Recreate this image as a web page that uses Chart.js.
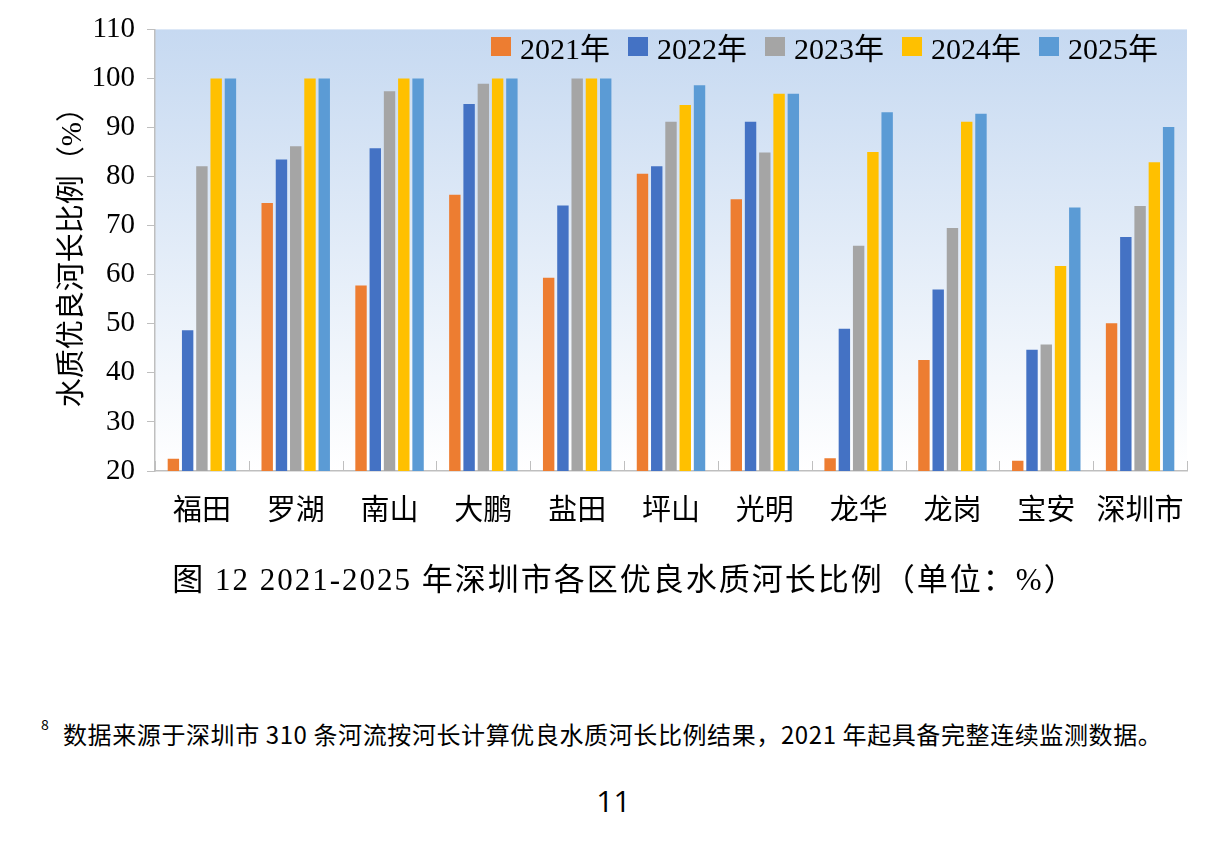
<!DOCTYPE html>
<html>
<head>
<meta charset="utf-8">
<script src="https://cdn.jsdelivr.net/npm/chart.js@4/dist/chart.umd.min.js"></script>
<style>
  html, body { margin: 0; padding: 0; background: #fff; }
  body { width: 1227px; height: 850px; position: relative; overflow: hidden; }
  #box { position: absolute; left: 0; top: 0; width: 1227px; height: 560px; }
  #legenda { position: absolute; top: 24px; left: 491px; display: flex;
    font-family: "Liberation Serif", "Noto Sans CJK SC", serif; font-size: 30px; color: #000; }
  #legenda .item { display: flex; align-items: center; margin-right: 18px; }
  #legenda .cor { width: 20px; height: 19px; margin-right: 9px; }
  #legenda .item:nth-child(5) { margin-right: 0; }
  #titulo { position: absolute; top: 554px; left: 0; width: 1227px; padding-left: 22px; box-sizing: border-box;
    text-align: center; font-family: "Liberation Serif", "Noto Sans CJK SC", serif; font-size: 31px; letter-spacing: 2px; }
  #nota { position: absolute; top: 716px; left: 63px; font-family: "Noto Sans CJK SC", sans-serif;
    font-size: 24px; white-space: nowrap; letter-spacing: 0.6px; }
  #nota sup { position: absolute; left: -22px; top: -2px; font-size: 14px; }
  #pagina { position: absolute; top: 780px; left: 0; width: 1227px; text-align: center;
    font-family: "Open Sans", sans-serif; font-size: 30px; }
</style>
</head>
<body>
<div id="box"><canvas id="grafico" width="1227" height="560"></canvas></div>
<div id="legenda"></div>
<div id="titulo">图 12 2021-2025 年深圳市各区优良水质河长比例（单位：%）</div>
<div id="nota"><sup>8</sup>数据来源于深圳市 310 条河流按河长计算优良水质河长比例结果，2021 年起具备完整连续监测数据。</div>
<div id="pagina">11</div>
<script>
const distritos = ["福田", "罗湖", "南山", "大鹏", "盐田", "坪山", "光明", "龙华", "龙岗", "宝安", "深圳市"];
const anos = ["2021年", "2022年", "2023年", "2024年", "2025年"];
const v2021 = [22.5, 74.6, 57.8, 76.3, 59.4, 80.6, 75.4, 22.6, 42.6, 22.1, 50.1];
const v2022 = [48.7, 83.5, 85.8, 94.8, 74.1, 82.1, 91.2, 49.0, 57.0, 44.7, 67.7];
const v2023 = [82.1, 86.2, 97.4, 98.9, 100, 91.2, 84.9, 65.9, 69.5, 45.8, 74.0];
const v2024 = [100, 100, 100, 100, 100, 94.6, 96.9, 85.0, 91.2, 61.8, 82.9];
const v2025 = [100, 100, 100, 100, 100, 98.6, 96.9, 93.1, 92.8, 73.7, 90.1];
const yTicks = [20, 30, 40, 50, 60, 70, 80, 90, 100, 110];
const cores = ["#ED7D31", "#4472C4", "#A5A5A5", "#FFC000", "#5B9BD5"];

const series = [v2021, v2022, v2023, v2024, v2025];
const corEixo = "#BFBFBF";

// fundo degradê da área do gráfico + marcas internas do eixo x
const fundo = {
  id: "fundo",
  beforeDraw(chart) {
    const { ctx, chartArea: a } = chart;
    const g = ctx.createLinearGradient(0, a.top, 0, a.bottom);
    g.addColorStop(0, "#C6D9F1");
    g.addColorStop(1, "#FFFFFF");
    ctx.save();
    ctx.fillStyle = g;
    ctx.fillRect(a.left, a.top, a.right - a.left, a.bottom - a.top);
    ctx.restore();
  },
  afterDraw(chart) {
    const { ctx, chartArea: a, scales } = chart;
    const x = scales.x;
    ctx.save();
    ctx.strokeStyle = corEixo;
    ctx.lineWidth = 1;
    for (let i = 0; i <= distritos.length; i++) {
      const px = Math.round(x.getPixelForValue(i - 0.5)) + 0.5;
      ctx.beginPath();
      ctx.moveTo(px, a.bottom);
      ctx.lineTo(px, a.bottom - 10);
      ctx.stroke();
    }
    ctx.restore();
  },
};

new Chart(document.getElementById("grafico"), {
  type: "bar",
  data: {
    labels: distritos,
    datasets: anos.map((ano, i) => ({
      label: ano,
      data: series[i],
      backgroundColor: cores[i],
      categoryPercentage: 0.76,
      barPercentage: 0.8,
    })),
  },
  options: {
    responsive: false,
    animation: false,
    layout: { padding: { top: 27, right: 40, left: 0, bottom: 0 } },
    plugins: { legend: { display: false }, tooltip: { enabled: false } },
    scales: {
      x: {
        afterFit(s) { s.height = 89; },
        grid: { display: false },
        border: { display: true, color: corEixo, width: 1.5 },
        ticks: {
          color: "#000",
          padding: 16,
          font: { family: "'Liberation Serif', 'Noto Sans CJK SC'", size: 29 },
        },
      },
      y: {
        min: 20,
        max: 110,
        afterFit(s) { s.width = 155; },
        afterBuildTicks(s) { s.ticks = yTicks.map((v) => ({ value: v })); },
        grid: { drawOnChartArea: false, drawTicks: true, tickLength: 8, color: corEixo },
        border: { display: true, color: corEixo, width: 1.5 },
        ticks: {
          color: "#000",
          padding: 12,
          font: { family: "'Liberation Serif'", size: 29 },
        },
        title: {
          display: true,
          text: "水质优良河长比例（%）",
          color: "#000",
          padding: { top: 56, bottom: 0 },
          font: { family: "'Liberation Serif', 'Noto Sans CJK SC'", size: 29, weight: "normal" },
        },
      },
    },
  },
  plugins: [fundo],
});

// legenda
const legenda = document.getElementById("legenda");
anos.forEach((ano, i) => {
  const div = document.createElement("div");
  div.className = "item";
  div.innerHTML = `<span class="cor" style="background:${cores[i]}"></span><span>${ano}</span>`;
  legenda.appendChild(div);
});
</script>
</body>
</html>
